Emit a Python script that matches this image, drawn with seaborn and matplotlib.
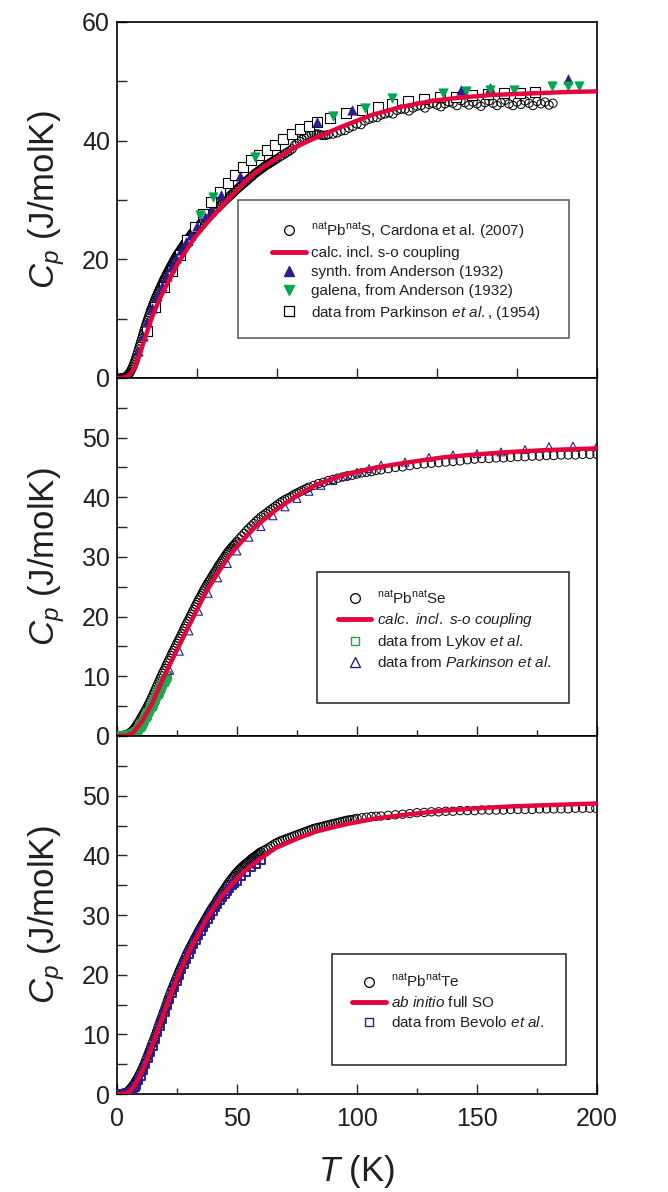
import matplotlib
matplotlib.use("Agg")
import matplotlib.pyplot as plt
from matplotlib.lines import Line2D
from matplotlib.patches import Rectangle
from matplotlib.ticker import MultipleLocator, FixedLocator
import seaborn as sns

# values as (T in K, Cp in J/molK) pairs

# ---------------- PbS (top panel, T axis 0-300 K) ----------------
pbs_calc = [(0, 0), (4, 0.02), (7.4, 0.4), (11.3, 1.8), (14.2, 4.1), (18.1, 7.2), (22, 10.3),
            (25.8, 12.8), (29.7, 15.0), (33.6, 17.0), (37.4, 19.0), (43.2, 21.5), (49, 23.8),
            (56.8, 26.3), (64.5, 28.6), (72.2, 30.8), (80, 33.1), (88, 34.9), (100, 37.0),
            (110, 38.7), (121, 40.1), (140, 42.3), (159, 44.3), (178, 45.7), (197, 46.7),
            (216, 47.3), (235, 47.7), (254, 47.9), (282, 48.2), (300, 48.3)]

pbs_cardona = [
    (2, 0.0), (2.5, 0.0), (3, 0.0), (3.5, 0.02), (4, 0.05), (4.5, 0.1), (5, 0.15), (5.5, 0.22),
    (6, 0.3), (6.5, 0.42), (7, 0.55), (7.5, 0.72), (8, 0.9), (8.5, 1.15), (9, 1.4), (9.5, 1.7),
    (10, 2.0), (10.5, 2.35), (11, 2.7), (11.5, 3.1), (12, 3.5), (12.5, 3.95), (13, 4.4),
    (13.5, 4.85), (14, 5.3), (14.5, 5.75), (15, 6.2), (15.5, 6.65), (16, 7.1), (16.5, 7.55),
    (17, 8.0), (17.5, 8.45), (18, 8.9), (18.5, 9.3), (19, 9.7), (19.5, 10.1), (20, 10.5),
    (20.5, 10.9), (21, 11.3), (21.5, 11.65), (22, 12.0), (22.5, 12.35), (23, 12.7), (23.5, 13.05),
    (24, 13.4), (24.5, 13.7), (25, 14.0), (25.5, 14.3), (26, 14.6), (26.5, 14.9), (27, 15.2),
    (27.5, 15.5), (28, 15.8), (28.5, 16.1), (29, 16.4), (29.5, 16.65), (30, 16.9), (30.5, 17.2),
    (31, 17.45), (31.5, 17.7), (32, 18.0), (32.5, 18.25), (33, 18.5), (33.5, 18.75), (34, 19.0),
    (34.5, 19.25), (35, 19.5), (35.5, 19.75), (36, 20.0), (36.5, 20.2), (37, 20.45), (37.5, 20.7),
    (38, 20.9), (38.5, 21.1), (39, 21.3), (39.5, 21.5), (40, 21.7), (40.5, 21.9), (41, 22.1),
    (41.5, 22.3), (42, 22.5), (42.5, 22.7), (43, 22.9), (43.5, 23.1), (44, 23.3), (44.5, 23.5),
    (45, 23.65), (45.5, 23.8), (46, 24.0), (46.5, 24.2), (47, 24.35), (47.5, 24.5), (48, 24.7),
    (48.5, 24.85), (49, 25.0), (49.5, 25.15), (50, 25.3), (51, 25.6), (52, 25.9), (53, 26.2),
    (54, 26.5), (55, 26.75), (56, 27.0), (57, 27.25), (58, 27.5), (59, 27.75), (60, 28.0),
    (61, 28.25), (62, 28.5), (63, 28.7), (64, 29.0), (65, 29.25), (66, 29.5), (67, 29.8),
    (68, 30.05), (69, 30.3), (70, 30.55), (71, 30.8), (72, 31.0), (73, 31.3), (74, 31.55),
    (75, 31.8), (76, 32.05), (77, 32.3), (78, 32.5), (79, 32.75), (80, 33.0), (81, 33.2),
    (82, 33.45), (83, 33.7), (84, 33.9), (85, 34.15), (86, 34.4), (87, 34.6), (88, 34.8),
    (89, 35.0), (90, 35.2), (91, 35.4), (92, 35.6), (93, 35.8), (94, 35.95), (95, 36.1),
    (96, 36.3), (97, 36.45), (98, 36.6), (99, 36.8), (100, 36.95), (102, 37.3), (103.5, 37.55),
    (105, 37.8), (106.5, 38.05), (108, 38.3), (109.5, 38.6), (111, 39.2), (112.5, 39.5),
    (114, 39.9), (115.5, 40.2), (117, 40.5), (118.5, 40.8), (120, 41.0), (121.5, 41.2),
    (123, 41.2), (124.5, 41.1), (126, 41.1), (127.5, 40.9), (129, 40.9), (130.5, 40.9),
    (132, 41.0), (135, 41.1), (137.5, 41.3), (140, 41.6), (142.5, 41.7), (145, 42.1),
    (147.5, 42.4), (150, 42.8), (152.5, 42.7), (155, 43.3), (157.5, 43.6), (160, 43.8),
    (162.5, 43.9), (165, 44.3), (167.5, 44.5), (170, 44.7), (172.5, 44.5), (175, 45.1),
    (177.5, 45.3), (180, 45.3), (182.5, 45.0), (185, 45.5), (187.5, 45.8), (190, 45.9),
    (192.5, 45.5), (195, 46.1), (197.5, 46.3), (200, 46.0), (202.5, 45.7), (205, 46.2),
    (207.5, 46.5), (210, 46.3), (212.5, 45.9), (215, 46.7), (217.5, 46.4), (220, 46.0),
    (222.5, 46.5), (225, 46.2), (227.5, 45.8), (230, 46.4), (232.5, 46.7), (235, 46.3),
    (237.5, 45.9), (240, 46.4), (242.5, 46.8), (245, 46.2), (247.5, 45.9), (250, 46.5),
    (252.5, 46.1), (255, 46.7), (257.5, 46.3), (260, 45.9), (262.5, 46.6), (265, 46.2),
    (267.5, 46.5), (270, 46.0), (272.5, 46.3)]

pbs_synth = [(13, 4.5), (16, 7.0), (19, 9.4), (22, 11.8), (25, 13.8), (28, 15.5), (31, 17.2),
             (34, 18.7), (37, 20.3), (40, 21.6), (43, 22.9), (46, 24.1), (50, 25.6), (55, 27.2),
             (59, 28.2), (65, 30.8), (77, 34.0), (125, 43.2), (147, 45.2), (215, 48.5),
             (233, 48.9), (282, 50.3)]

pbs_galena = [(52, 27.5), (60, 30.5), (86, 37.2), (135, 44.2), (155, 45.5), (172, 47.1),
              (204, 48.0), (218, 48.3), (233, 48.5), (248, 48.5), (272, 49.2), (282, 49.2),
              (289, 49.2)]

pbs_parkinson = [(19, 8.0), (24, 11.9), (29.5, 15.3), (34.5, 18.1), (39.5, 20.7), (44, 23.2),
                 (49, 25.5), (54, 27.7), (59, 29.7), (64.5, 31.4), (69.5, 32.8), (74, 34.2),
                 (79, 35.6), (84, 36.8), (89, 37.6), (94, 38.5), (99, 39.2), (104, 40.2),
                 (109.5, 41.1), (114.5, 41.9), (120, 42.5), (125, 43.1), (133, 43.8), (143, 44.6),
                 (153, 45.2), (163, 45.7), (172, 46.2), (182, 46.6), (192, 47.0), (202, 47.3),
                 (212, 47.4), (222, 47.7), (232, 47.8), (242, 48.0), (252, 48.1), (261, 48.2)]

# ---------------- PbSe (middle panel) ----------------
pbse_calc = [(0, 0), (4, 0.05), (6.6, 0.5), (10.5, 2.5), (14.5, 5.3), (18.4, 8.9), (21.7, 11.7),
             (25, 14.4), (28.9, 17.6), (32.9, 20.8), (36.8, 23.9), (42, 27.3), (47, 30.3),
             (52.6, 32.9), (58, 35.2), (66, 37.8), (75, 40.3), (83, 42.1), (94, 43.7),
             (108, 45.0), (122, 45.9), (136, 46.7), (150, 47.2), (164, 47.6), (178, 47.9),
             (200, 48.2)]

pbse_meas = [
    (2, 0.05), (2.5, 0.07), (3, 0.1), (3.5, 0.15), (4, 0.2), (4.5, 0.3), (5, 0.4), (5.5, 0.55),
    (6, 0.7), (6.5, 0.9), (7, 1.1), (7.5, 1.4), (8, 1.7), (8.5, 2.0), (9, 2.3), (9.5, 2.65),
    (10, 3.0), (10.5, 3.35), (11, 3.7), (11.5, 4.05), (12, 4.4), (12.5, 4.8), (13, 5.2),
    (13.5, 5.6), (14, 6.0), (14.5, 6.45), (15, 6.9), (15.5, 7.35), (16, 7.8), (16.5, 8.25),
    (17, 8.7), (17.5, 9.15), (18, 9.6), (18.5, 10.05), (19, 10.5), (19.5, 10.9), (20, 11.3),
    (20.5, 11.75), (21, 12.2), (21.5, 12.6), (22, 13.0), (22.5, 13.45), (23, 13.9), (23.5, 14.3),
    (24, 14.7), (24.5, 15.1), (25, 15.5), (25.5, 15.9), (26, 16.3), (26.5, 16.7), (27, 17.1),
    (27.5, 17.55), (28, 18.0), (28.5, 18.4), (29, 18.8), (29.5, 19.2), (30, 19.6), (30.5, 20.0),
    (31, 20.4), (31.5, 20.8), (32, 21.2), (32.5, 21.6), (33, 22.0), (33.5, 22.4), (34, 22.8),
    (34.5, 23.15), (35, 23.5), (35.5, 23.9), (36, 24.3), (36.5, 24.65), (37, 25.0), (37.5, 25.35),
    (38, 25.7), (38.5, 26.0), (39, 26.3), (39.5, 26.65), (40, 27.0), (40.5, 27.3), (41, 27.6),
    (41.5, 27.95), (42, 28.3), (42.5, 28.6), (43, 28.9), (43.5, 29.2), (44, 29.5), (44.5, 29.8),
    (45, 30.1), (45.5, 30.4), (46, 30.7), (46.5, 30.95), (47, 31.2), (47.5, 31.45), (48, 31.7),
    (48.5, 31.9), (49, 32.1), (49.5, 32.35), (50, 32.6), (51, 33.05), (52, 33.5), (53, 33.95),
    (54, 34.4), (55, 34.8), (56, 35.2), (57, 35.6), (58, 36.0), (59, 36.35), (60, 36.7),
    (61, 37.0), (62, 37.3), (63, 37.6), (64, 37.9), (65, 38.2), (66, 38.5), (67, 38.8),
    (68, 39.1), (69, 39.35), (70, 39.6), (71, 39.8), (72, 40.0), (73, 40.25), (74, 40.5),
    (75, 40.7), (76, 40.9), (77, 41.1), (78, 41.3), (79, 41.5), (80, 41.7), (82, 42.0),
    (84, 42.3), (86, 42.5), (88, 42.8), (90, 43.0), (92, 43.2), (94, 43.4), (96, 43.6),
    (98, 43.7), (100, 43.9), (102, 44.1), (104, 44.2), (106, 44.3), (108, 44.5), (110, 44.6),
    (113, 44.8), (116, 45.0), (119, 45.1), (122, 45.3), (125, 45.5), (128, 45.6), (131, 45.7),
    (134, 45.8), (137, 45.9), (140, 46.0), (143, 46.1), (146, 46.3), (149, 46.4), (152, 46.5),
    (155, 46.5), (158, 46.6), (161, 46.6), (164, 46.7), (167, 46.8), (170, 46.8), (173, 46.9),
    (176, 46.9), (179, 47.0), (182, 47.0), (185, 47.1), (188, 47.1), (191, 47.1), (194, 47.2),
    (197, 47.2), (200, 47.2)]

pbse_lykov = [(1, 0.0), (1.5, 0.0), (2, 0.01), (2.5, 0.01), (3, 0.02), (3.5, 0.03), (4, 0.05),
              (4.5, 0.07), (5, 0.1), (5.5, 0.15), (6, 0.22), (6.5, 0.3), (7, 0.42), (7.5, 0.56),
              (8, 0.73), (8.5, 0.93), (9, 1.15), (9.5, 1.4), (10, 1.7), (10.5, 2.0), (11, 2.35),
              (11.5, 2.7), (12, 3.1), (12.5, 3.5), (13, 3.9), (13.5, 4.25), (14, 4.6), (14.5, 5.0),
              (15, 5.4), (15.5, 5.8), (16, 6.2), (16.5, 6.6), (17, 7.0), (17.5, 7.4), (18, 7.8),
              (18.5, 8.2), (19, 8.6), (19.5, 8.95), (20, 9.3), (20.5, 9.65), (21, 10.0)]

pbse_parkinson = [(22, 11.0), (26, 14.2), (30, 17.6), (34, 20.9), (38, 23.9), (42, 26.5),
                  (46, 28.9), (50, 31.0), (55, 33.3), (60, 35.1), (65, 36.9), (70, 38.4),
                  (75, 39.8), (80, 41.0), (85, 42.0), (90, 42.8), (95, 43.5), (100, 44.2),
                  (105, 44.8), (110, 45.4), (120, 45.9), (130, 46.7), (140, 47.1), (150, 47.3),
                  (160, 47.6), (170, 48.0), (180, 48.5), (190, 48.6), (200, 48.6)]

# ---------------- PbTe (bottom panel) ----------------
pbte_calc = [(0, 0), (3, 0.03), (5, 0.3), (7, 1.2), (9, 2.6), (10.9, 4.2), (14.7, 8.1),
             (18.6, 12.5), (22.4, 16.7), (26.3, 20.6), (30.1, 23.9), (34, 26.9), (37.8, 29.6),
             (43, 32.8), (48.1, 35.3), (53.2, 37.4), (59.6, 39.4), (66, 41.2), (75, 42.8),
             (83, 44.0), (94, 45.1), (108, 46.2), (122, 46.9), (136, 47.5), (150, 47.9),
             (164, 48.2), (178, 48.4), (200, 48.7)]

pbte_meas = [
    (2, 0.1), (2.5, 0.12), (3, 0.15), (3.5, 0.22), (4, 0.3), (4.5, 0.45), (5, 0.6), (5.5, 0.85),
    (6, 1.1), (6.5, 1.35), (7, 1.6), (7.5, 1.95), (8, 2.3), (8.5, 2.65), (9, 3.0), (9.5, 3.4),
    (10, 3.8), (10.5, 4.25), (11, 4.7), (11.5, 5.2), (12, 5.7), (12.5, 6.2), (13, 6.7),
    (13.5, 7.25), (14, 7.8), (14.5, 8.3), (15, 8.8), (15.5, 9.35), (16, 9.9), (16.5, 10.5),
    (17, 11.1), (17.5, 11.65), (18, 12.2), (18.5, 12.75), (19, 13.3), (19.5, 13.85), (20, 14.4),
    (20.5, 15.0), (21, 15.6), (21.5, 16.15), (22, 16.7), (22.5, 17.2), (23, 17.7), (23.5, 18.2),
    (24, 18.7), (24.5, 19.2), (25, 19.7), (25.5, 20.2), (26, 20.7), (26.5, 21.15), (27, 21.6),
    (27.5, 22.05), (28, 22.5), (28.5, 22.95), (29, 23.4), (29.5, 23.8), (30, 24.2), (30.5, 24.6),
    (31, 25.0), (31.5, 25.4), (32, 25.8), (32.5, 26.15), (33, 26.5), (33.5, 26.9), (34, 27.3),
    (34.5, 27.65), (35, 28.0), (35.5, 28.35), (36, 28.7), (36.5, 29.05), (37, 29.4), (37.5, 29.75),
    (38, 30.1), (38.5, 30.45), (39, 30.8), (39.5, 31.1), (40, 31.4), (40.5, 31.7), (41, 32.0),
    (41.5, 32.35), (42, 32.7), (42.5, 33.0), (43, 33.3), (43.5, 33.6), (44, 33.9), (44.5, 34.2),
    (45, 34.5), (45.5, 34.8), (46, 35.1), (46.5, 35.4), (47, 35.7), (47.5, 35.95), (48, 36.2),
    (48.5, 36.45), (49, 36.7), (49.5, 36.95), (50, 37.2), (50.5, 37.4), (51, 37.6), (51.5, 37.8),
    (52, 38.0), (52.5, 38.2), (53, 38.4), (53.5, 38.55), (54, 38.7), (54.5, 38.85), (55, 39.0),
    (55.5, 39.2), (56, 39.4), (56.5, 39.55), (57, 39.7), (57.5, 39.85), (58, 40.0), (58.5, 40.15),
    (59, 40.3), (59.5, 40.45), (60, 40.6), (61, 40.8), (62, 41.0), (63, 41.25), (64, 41.5),
    (65, 41.75), (66, 42.0), (67, 42.2), (68, 42.4), (69, 42.55), (70, 42.7), (71, 42.85),
    (72, 43.0), (73, 43.15), (74, 43.3), (75, 43.45), (76, 43.6), (77, 43.75), (78, 43.9),
    (79, 44.05), (80, 44.2), (81, 44.35), (82, 44.5), (83, 44.6), (84, 44.7), (85, 44.8),
    (86, 44.9), (87, 45.0), (88, 45.1), (89, 45.2), (90, 45.3), (91, 45.4), (92, 45.5),
    (93, 45.6), (94, 45.7), (95, 45.8), (96, 45.9), (97, 45.95), (98, 46.0), (99, 46.1),
    (100, 46.2), (102, 46.3), (104, 46.4), (106, 46.5), (108, 46.55), (110, 46.6), (113, 46.7),
    (116, 46.8), (119, 46.9), (122, 47.0), (125, 47.15), (128, 47.2), (131, 47.3), (134, 47.3),
    (137, 47.4), (140, 47.4), (143, 47.5), (146, 47.5), (149, 47.5), (152, 47.6), (155, 47.6),
    (158, 47.6), (161, 47.6), (164, 47.7), (167, 47.7), (170, 47.7), (173, 47.7), (176, 47.8),
    (179, 47.8), (182, 47.8), (185, 47.8), (188, 47.8), (191, 47.9), (194, 47.9), (197, 47.9),
    (199.5, 47.9)]

pbte_bevolo = [(0.5, 0.0), (1, 0.0), (1.5, 0.0), (2, 0.01), (2.5, 0.02), (3, 0.03), (3.5, 0.06),
               (4, 0.1), (4.5, 0.15), (5, 0.22), (5.5, 0.32), (6, 0.45), (6.5, 0.62), (7, 0.85),
               (7.5, 1.1), (8, 1.5), (9, 2.2), (10, 3.0), (11, 3.9), (12, 4.9), (13, 5.9), (14, 7.0),
               (15, 8.0), (16, 9.1), (17, 10.3), (18, 11.4), (19, 12.5), (20, 13.6), (21, 14.8),
               (22, 15.9), (23, 16.9), (24, 17.9), (25, 18.9), (26, 19.9), (27, 20.8), (28, 21.7),
               (29, 22.6), (30, 23.4), (31, 24.2), (32, 25.0), (33, 25.8), (34, 26.5), (35, 27.2),
               (36, 27.9), (37, 28.6), (38, 29.3), (39, 30.0), (40, 30.6), (41, 31.2), (42, 31.8),
               (43, 32.4), (44, 32.9), (45, 33.4), (46, 33.9), (47, 34.4), (48, 34.9), (49, 35.3),
               (50, 35.7), (52, 36.5), (54, 37.2), (56, 37.9), (58, 38.5), (60, 39.1)]

# legend texts
pbs_labels = [r'$\mathregular{^{nat}}$Pb$\mathregular{^{nat}}$S, Cardona et al. (2007)',
              'calc. incl. s-o coupling',
              'synth. from Anderson (1932)',
              'galena, from Anderson (1932)',
              r'data from Parkinson $\mathit{et\ al.}\mathregular{,}$ (1954)']
pbse_labels = [r'$\mathregular{^{nat}}$Pb$\mathregular{^{nat}}$Se',
               r'$\mathit{calc.\ incl.\ s\text{-}o\ coupling}$',
               r'data from Lykov $\mathit{et\ al.}$',
               r'data from $\mathit{Parkinson\ et\ al.}$']
pbte_labels = [r'$\mathregular{^{nat}}$Pb$\mathregular{^{nat}}$Te',
               r'$\mathit{ab\ initio}$ full SO',
               r'data from Bevolo $\mathit{et\ al.}$']

RED = '#e3063c'
NAVY = '#2e1b8c'
GREEN = '#00a651'
LGREEN = '#1fa84a'
INK = '#231f20'

sns.set_style('ticks')
plt.rcParams['font.family'] = ['Liberation Sans', 'DejaVu Sans']
plt.rcParams['mathtext.fontset'] = 'custom'
plt.rcParams['mathtext.rm'] = 'Liberation Sans'
plt.rcParams['mathtext.it'] = 'Liberation Sans:italic'
plt.rcParams['mathtext.bf'] = 'Liberation Sans:bold'


def dots(ax, pts, marker, size, fc, ec, lw, z):
    T, C = zip(*pts)
    sns.scatterplot(x=list(T), y=list(C), ax=ax, marker=marker, s=size, facecolor=fc,
                    edgecolor=ec, linewidth=lw, zorder=z, legend=False)


def calc_line(ax, pts):
    T, C = zip(*pts)
    sns.lineplot(x=list(T), y=list(C), ax=ax, color=RED, linewidth=3.2, sort=False,
                 estimator=None, legend=False, zorder=6)


def style_axis(ax, xmax, xmajor, xminor, ymajor, yminor, show_x):
    ax.set_xlim(0, xmax)
    ax.set_ylim(0, 60)
    ax.xaxis.set_major_locator(MultipleLocator(xmajor))
    if xminor:
        ax.xaxis.set_minor_locator(MultipleLocator(xminor))
    ax.yaxis.set_major_locator(FixedLocator(ymajor))
    ax.yaxis.set_minor_locator(MultipleLocator(yminor))
    ax.tick_params(which='both', direction='in', top=False, right=False,
                   width=1.0, labelsize=18, labelcolor=INK)
    ax.tick_params(axis='y', which='both', length=7, pad=5)
    ax.tick_params(axis='x', which='major', length=7, pad=9)
    ax.tick_params(axis='x', which='minor', length=4)
    if not show_x:
        ax.tick_params(axis='x', labelbottom=False)
    for s in ax.spines.values():
        s.set_linewidth(1.2)
        s.set_color('black')
    ax.set_xlabel('')
    ax.set_ylabel(r'$C_p$ (J/molK)', fontsize=25, color=INK)
    ax.yaxis.set_label_coords(-0.105, 0.5)


def legend_box(ax, handles, labels, anchor, rect, ec, spacing):
    ax.add_patch(Rectangle(rect[:2], rect[2], rect[3], transform=ax.transAxes,
                           facecolor='white', edgecolor=ec, linewidth=1.1, zorder=7))
    leg = ax.legend(handles, labels, loc='upper left', bbox_to_anchor=anchor,
                    frameon=False, fontsize=11, handlelength=2.2, handletextpad=0.35,
                    labelspacing=spacing, borderpad=0, borderaxespad=0)
    leg.set_zorder(8)
    for t in leg.get_texts():
        t.set_color(INK)
    return leg


fig = plt.figure(figsize=(6.68, 11.92), dpi=100)
ax_top = fig.add_axes([0.1751, 0.6829, 0.7186, 0.2987])
ax_mid = fig.add_axes([0.1751, 0.3826, 0.7186, 0.3003])
ax_bot = fig.add_axes([0.1751, 0.0822, 0.7186, 0.3003])

# ---- top: PbS ----
dots(ax_top, pbs_cardona, 'o', 36, 'none', 'black', 0.7, 2)
dots(ax_top, pbs_parkinson, 's', 42, 'white', 'black', 0.8, 3)
dots(ax_top, pbs_synth, '^', 45, NAVY, NAVY, 0.5, 4)
dots(ax_top, pbs_galena, 'v', 45, GREEN, GREEN, 0.5, 4)
calc_line(ax_top, pbs_calc)
style_axis(ax_top, 300, 50, None, [0, 20, 40, 60], 10, False)

h_top = [Line2D([], [], ls='none', marker='o', ms=7, mfc='none', mec='black', mew=0.9),
         Line2D([], [], color=RED, lw=3.5),
         Line2D([], [], ls='none', marker='^', ms=7.5, mfc=NAVY, mec=NAVY),
         Line2D([], [], ls='none', marker='v', ms=7.5, mfc=GREEN, mec=GREEN),
         Line2D([], [], ls='none', marker='s', ms=6.5, mfc='white', mec='black', mew=0.9)]
legend_box(ax_top, h_top, pbs_labels, (0.323, 0.443), (0.252, 0.112, 0.690, 0.388),
           '#555555', 0.34)

# ---- middle: PbSe ----
dots(ax_mid, pbse_meas, 'o', 36, 'none', 'black', 0.7, 2)
dots(ax_mid, pbse_lykov, 's', 30, 'none', LGREEN, 1.5, 3)
dots(ax_mid, pbse_parkinson, '^', 32, 'none', NAVY, 0.8, 4)
calc_line(ax_mid, pbse_calc)
style_axis(ax_mid, 200, 50, 25, [0, 10, 20, 30, 40, 50], 5, False)

h_mid = [Line2D([], [], ls='none', marker='o', ms=7, mfc='none', mec='black', mew=0.9),
         Line2D([], [], color=RED, lw=3.5),
         Line2D([], [], ls='none', marker='s', ms=5.5, mfc='none', mec=LGREEN, mew=1.0),
         Line2D([], [], ls='none', marker='^', ms=6.5, mfc='none', mec=NAVY, mew=1.0)]
legend_box(ax_mid, h_mid, pbse_labels, (0.460, 0.41), (0.417, 0.092, 0.525, 0.366),
           '#222222', 0.27)

# ---- bottom: PbTe ----
dots(ax_bot, pbte_meas, 'o', 36, 'none', 'black', 0.7, 2)
dots(ax_bot, pbte_bevolo, 's', 26, 'none', NAVY, 1.4, 3)
calc_line(ax_bot, pbte_calc)
style_axis(ax_bot, 200, 50, 25, [0, 10, 20, 30, 40, 50], 5, True)
ax_bot.set_xlabel(r'$T$ (K)', fontsize=25, color=INK)
ax_bot.xaxis.set_label_coords(0.5, -0.165)

h_bot = [Line2D([], [], ls='none', marker='o', ms=7, mfc='none', mec='black', mew=0.9),
         Line2D([], [], color=RED, lw=3.5),
         Line2D([], [], ls='none', marker='s', ms=5.5, mfc='none', mec=NAVY, mew=1.0)]
legend_box(ax_bot, h_bot, pbte_labels, (0.490, 0.34), (0.448, 0.081, 0.4875, 0.311),
           '#222222', 0.33)

fig.savefig('out.png', dpi=100)
